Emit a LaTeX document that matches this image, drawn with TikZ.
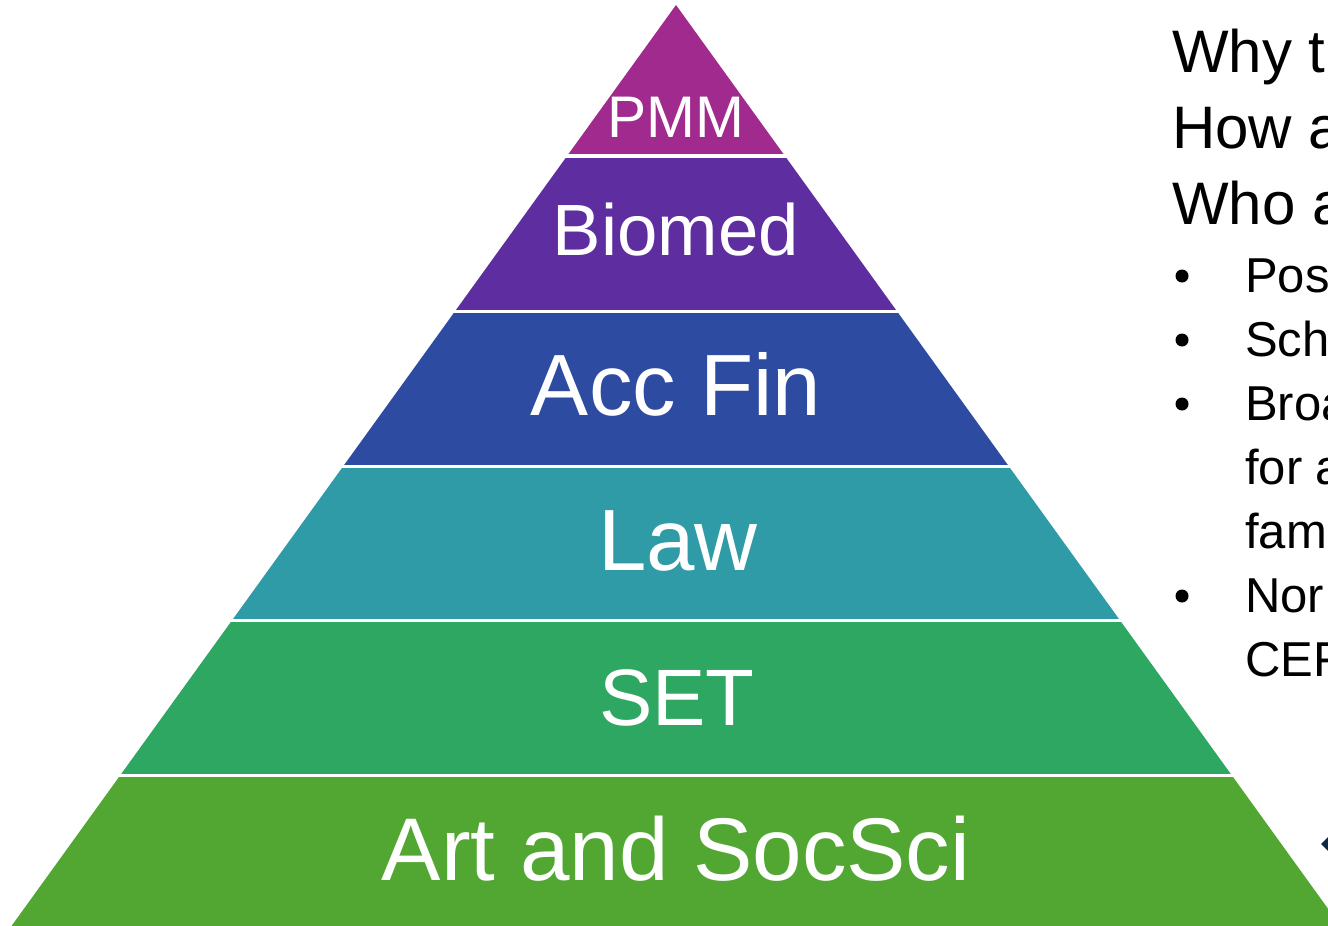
\documentclass[tikz,border=0pt]{standalone}
\usepackage{fontspec}
\setmainfont{Liberation Sans}
\definecolor{cPMM}{HTML}{A02A8E}
\definecolor{cBio}{HTML}{5E2EA0}
\definecolor{cAcc}{HTML}{2D4BA1}
\definecolor{cLaw}{HTML}{2F9BA6}
\definecolor{cSET}{HTML}{2EA762}
\definecolor{cArt}{HTML}{51A732}
\definecolor{cNavy}{HTML}{0E2841}
\tikzset{
  layerlabel/.style={text=white, anchor=base, inner sep=0pt},
  headtext/.style={anchor=base west, inner sep=0pt, font=\fontsize{60}{72}\selectfont},
  bullettext/.style={anchor=base west, inner sep=0pt, font=\fontsize{49}{58}\selectfont},
  bulletdot/.style={fill=black}
}
\begin{document}
\begin{tikzpicture}[x=1pt,y=-1pt]
\useasboundingbox (0,0) rectangle (1328,926);
\clip (0,0) rectangle (1328,926);
\begin{scope}
  \clip (676,5) -- (11.5,926) -- (1340.5,926) -- cycle;
  \fill[cPMM] (0,0) rectangle (1400,154);
  \fill[cBio] (0,157.5) rectangle (1400,309.5);
  \fill[cAcc] (0,312.5) rectangle (1400,464.5);
  \fill[cLaw] (0,467.5) rectangle (1400,619);
  \fill[cSET] (0,622) rectangle (1400,774);
  \fill[cArt] (0,777) rectangle (1400,940);
\end{scope}
\node[layerlabel, font=\fontsize{58.7}{60}\selectfont] (pmm) at (676,137) {PMM};
\node[layerlabel, font=\fontsize{72.6}{74}\selectfont] (bio) at (676,255) {Biomed};
\node[layerlabel, font=\fontsize{87}{90}\selectfont] (acc) at (676,415) {Acc Fin};
\node[layerlabel, font=\fontsize{87}{90}\selectfont] (law) at (678,570) {Law};
\node[layerlabel, font=\fontsize{80}{90}\selectfont] (set) at (677,725) {SET};
\node[layerlabel, font=\fontsize{89}{90}\selectfont] (art) at (676,880) {Art and SocSci};
% right text
\node[headtext] (why) at (1172,72) {Why t};
\node[headtext] (how) at (1172,148) {How a};
\node[headtext] (who) at (1172,224) {Who a};
\coordinate (b1) at (1182,276);
\coordinate (b2) at (1182,340);
\coordinate (b3) at (1182,404);
\coordinate (b4) at (1182,596);
\foreach \b in {b1,b2,b3,b4} \fill[bulletdot] (\b) circle[radius=6.5pt];
\node[bullettext] (t1) at (1245,292) {Pos};
\node[bullettext] (t2) at (1245,356) {Sch};
\node[bullettext] (t3) at (1245,420) {Broa};
\node[bullettext] (t4) at (1245,484) {for a};
\node[bullettext] (t5) at (1245,548) {fam};
\node[bullettext] (t6) at (1245,612) {Nor};
\node[bullettext] (t7) at (1245,676) {CEFR};
% partial dark shape at right edge
\fill[cNavy] (1321,844) -- (1330,835) -- (1330,853) -- cycle;
\end{tikzpicture}
\end{document}
